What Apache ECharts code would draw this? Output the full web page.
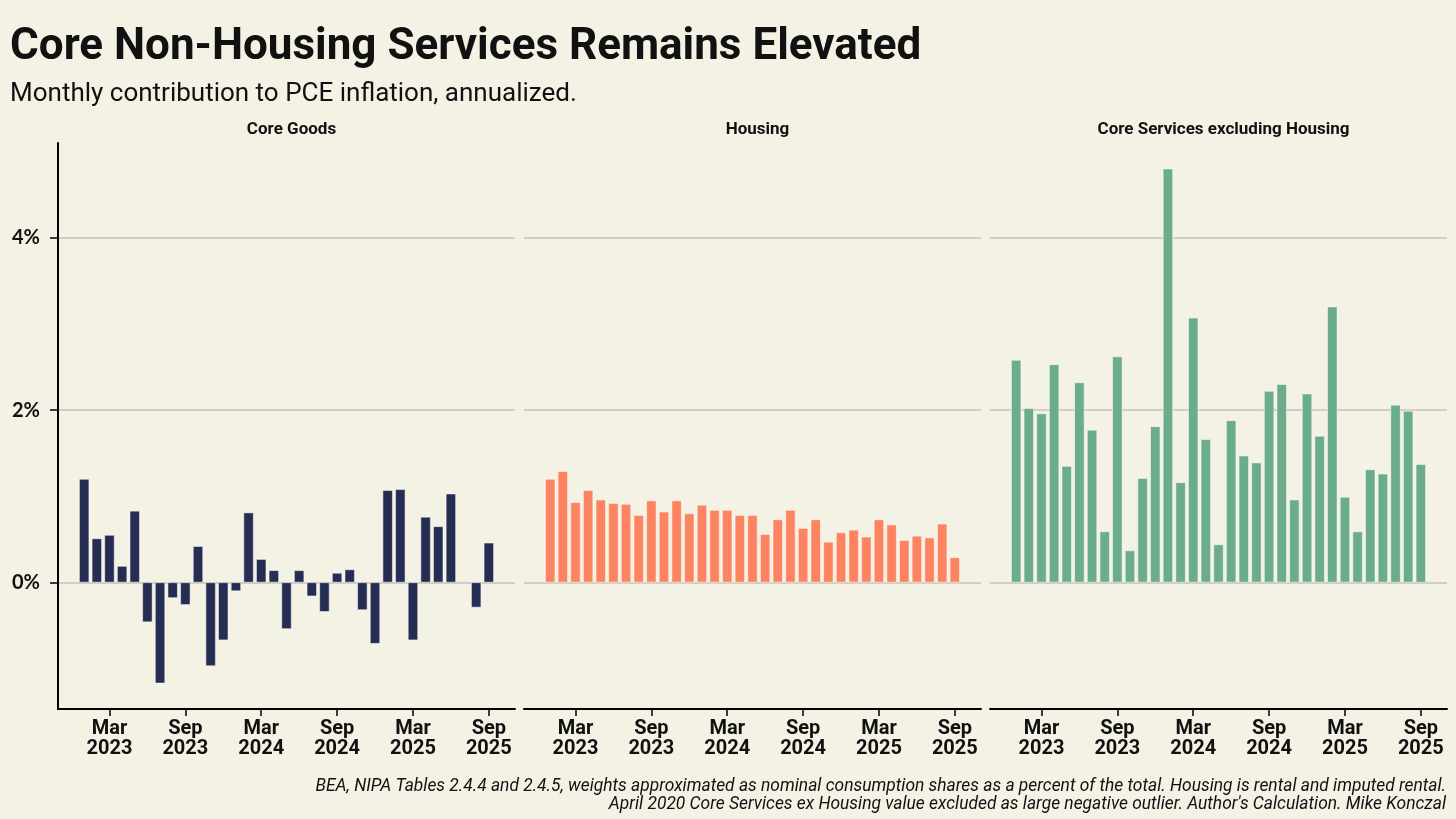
<!DOCTYPE html>
<html>
<head>
<meta charset="utf-8">
<script src="https://cdn.jsdelivr.net/npm/echarts@6/dist/echarts.min.js"></script>
<style>
html,body{margin:0;padding:0;background:#f4f1e5;}
#c{width:1456px;height:819px;}
</style>
</head>
<body>
<div id="c"></div>
<script>
const months = ['Jan 2023','Feb 2023','Mar 2023','Apr 2023','May 2023','Jun 2023','Jul 2023','Aug 2023','Sep 2023','Oct 2023','Nov 2023','Dec 2023',
  'Jan 2024','Feb 2024','Mar 2024','Apr 2024','May 2024','Jun 2024','Jul 2024','Aug 2024','Sep 2024','Oct 2024','Nov 2024','Dec 2024',
  'Jan 2025','Feb 2025','Mar 2025','Apr 2025','May 2025','Jun 2025','Jul 2025','Aug 2025','Sep 2025'];
const coreGoods = [1.20,0.51,0.55,0.19,0.83,-0.46,-1.17,-0.18,-0.26,0.42,-0.97,-0.67,-0.10,0.81,0.27,0.14,-0.54,0.14,-0.16,-0.34,0.11,0.15,-0.32,-0.71,1.07,1.08,-0.67,0.76,0.65,1.03,0.01,-0.29,0.46];
const housing = [1.20,1.29,0.93,1.07,0.96,0.92,0.91,0.78,0.95,0.82,0.95,0.80,0.90,0.84,0.84,0.78,0.78,0.56,0.73,0.84,0.63,0.73,0.47,0.58,0.61,0.53,0.73,0.67,0.49,0.54,0.52,0.68,0.29];
const coreServicesExHousing = [2.58,2.02,1.96,2.53,1.35,2.32,1.77,0.59,2.62,0.37,1.21,1.81,4.80,1.16,3.07,1.66,0.44,1.88,1.47,1.39,2.22,2.30,0.96,2.19,1.70,3.20,0.99,0.59,1.31,1.26,2.06,1.99,1.37];
const panelTitles = ['Core Goods','Housing','Core Services excluding Housing'];
const xTickMonths = ['Mar 2023','Sep 2023','Mar 2024','Sep 2024','Mar 2025','Sep 2025'];
const xTickLabels = ['Mar\n2023','Sep\n2023','Mar\n2024','Sep\n2024','Mar\n2025','Sep\n2025'];
const yTicks = [0,2,4];
const yTickLabels = ['0%','2%','4%'];
const footnote = ["BEA, NIPA Tables 2.4.4 and 2.4.5, weights approximated as nominal consumption shares as a percent of the total. Housing is rental and imputed rental.",
  "April 2020 Core Services ex Housing value excluded as large negative outlier. Author's Calculation. Mike Konczal"];

const seriesData = [coreGoods, housing, coreServicesExHousing];
const colors = ['#262d52','#fd8461','#6aac8b'];

const chart = echarts.init(document.getElementById('c'));
const allVals = coreGoods.concat(housing, coreServicesExHousing);
const vMin = Math.min(...allVals), vMax = Math.max(...allVals);
const pad = (vMax - vMin) * 0.05;
const yMin = vMin - pad, yMax = vMax + pad;
const n = months.length;
const xPad = 2.07;
const tickIdx = xTickMonths.map(m => months.indexOf(m));

const lefts = [58, 524, 990];
const grids = lefts.map(l => ({left: l, width: 457, top: 143, height: 566}));

const font = 'Roboto';
const xAxes = [], yAxes = [], series = [], titles = [];
for (let p = 0; p < 3; p++) {
  xAxes.push({
    type: 'value', gridIndex: p, min: -xPad, max: n - 1 + xPad,
    splitLine: {show: false},
    axisLine: {show: true, onZero: false, lineStyle: {color: '#000', width: 2}},
    axisTick: {show: true, length: 7, lineStyle: {color: '#000', width: 1.5}, customValues: tickIdx},
    axisLabel: {show: true, customValues: tickIdx, margin: 10,
      formatter: v => xTickLabels[tickIdx.indexOf(Math.round(v))] || '',
      color: '#111', fontFamily: font, fontWeight: 'bold', fontSize: 20, lineHeight: 20}
  });
  yAxes.push({
    type: 'value', gridIndex: p, min: yMin, max: yMax,
    axisLine: {show: p === 0, onZero: false, lineStyle: {color: '#000', width: 2}},
    axisTick: {show: p === 0, length: 8, lineStyle: {color: '#000', width: 1.5}, customValues: yTicks},
    axisLabel: {show: p === 0, customValues: yTicks, margin: 18,
      formatter: v => yTickLabels[yTicks.indexOf(Math.round(v))] || '',
      color: '#111', fontFamily: 'Lato', fontWeight: 'bold', fontSize: 20},
    splitLine: {show: true, lineStyle: {color: '#c4c2ba', width: 1.5}}
  });
  series.push({
    type: 'bar', xAxisIndex: p, yAxisIndex: p, barWidth: 10,
    data: seriesData[p].map((v, i) => [i, v]),
    itemStyle: {color: colors[p], borderColor: '#ffffff', borderWidth: 0.5},
    animation: false, z: 3
  });
  titles.push({
    text: panelTitles[p], left: lefts[p] + 228.5, top: 116, textAlign: 'center',
    textStyle: {fontFamily: font, fontWeight: 'bold', fontSize: 17, color: '#111'}
  });
}
titles.push({text: 'Core Non-Housing Services Remains Elevated', left: 5, top: 21,
  textStyle: {fontFamily: font, fontWeight: 'bold', fontSize: 44, color: '#111'}});
titles.push({text: 'Monthly contribution to PCE inflation, annualized.', left: 5, top: 76,
  textStyle: {fontFamily: font, fontWeight: 'normal', fontSize: 26, color: '#111'}});

chart.setOption({
  backgroundColor: '#f4f1e5',
  animation: false,
  title: titles,
  grid: grids,
  xAxis: xAxes,
  yAxis: yAxes,
  series: series,
  graphic: footnote.map((t, i) => ({
    type: 'text', right: 10, top: 778 + i * 18,
    style: {text: t, fontFamily: font, fontStyle: 'italic', fontSize: 17.4, fill: '#111', textAlign: 'right'}
  }))
});
</script>
</body>
</html>
